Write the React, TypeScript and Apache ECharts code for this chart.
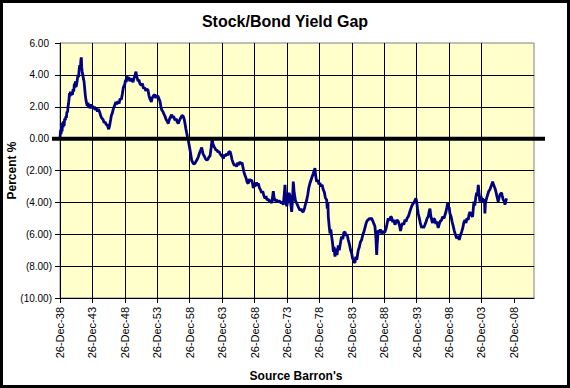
import { useEffect, useRef } from 'react';
import * as echarts from 'echarts';

const TITLE = 'Stock/Bond Yield Gap';
const Y_NAME = 'Percent %';
const X_NAME = "Source Barron's";

// x tick labels, one every 5 years starting 26-Dec-1938
const xTickLabels = [
  '26-Dec-38', '26-Dec-43', '26-Dec-48', '26-Dec-53', '26-Dec-58',
  '26-Dec-63', '26-Dec-68', '26-Dec-73', '26-Dec-78', '26-Dec-83',
  '26-Dec-88', '26-Dec-93', '26-Dec-98', '26-Dec-03', '26-Dec-08',
];
const X_STEP = 5;
const X_SPAN = 73.1; // years shown after 26-Dec-1938
const START_YEAR = 1938 + 359 / 365; // 26-Dec-1938 as decimal year

const Y_MIN = -10;
const Y_MAX = 6;
const Y_STEP = 2;

// dates as decimal years
const dateYears = [
  1939.00, 1939.08, 1939.15, 1939.23, 1939.30, 1939.38, 1939.46, 1939.55, 1939.62, 1939.70,
  1939.80, 1939.90, 1939.97, 1940.05, 1940.15, 1940.22, 1940.30, 1940.38, 1940.45, 1940.52,
  1940.60, 1940.70, 1940.80, 1940.90, 1941.00, 1941.10, 1941.20, 1941.28, 1941.36, 1941.45,
  1941.55, 1941.65, 1941.76, 1941.85, 1941.95, 1942.03, 1942.12, 1942.20, 1942.27, 1942.33,
  1942.40, 1942.50, 1942.60, 1942.69, 1942.80, 1942.89, 1943.00, 1943.10, 1943.20, 1943.30,
  1943.40, 1943.57, 1943.70, 1943.85, 1944.00, 1944.15, 1944.30, 1944.45, 1944.59, 1944.75,
  1944.90, 1945.11, 1945.25, 1945.40, 1945.62, 1945.80, 1945.95, 1946.13, 1946.25, 1946.39,
  1946.50, 1946.65, 1946.80, 1946.90, 1947.05, 1947.20, 1947.42, 1947.60, 1947.75, 1947.93,
  1948.10, 1948.25, 1948.44, 1948.60, 1948.75, 1948.97, 1949.10, 1949.20, 1949.32, 1949.45,
  1949.60, 1949.74, 1949.90, 1950.05, 1950.24, 1950.40, 1950.55, 1950.70, 1950.80, 1950.90,
  1951.02, 1951.15, 1951.30, 1951.52, 1951.70, 1951.85, 1952.05, 1952.20, 1952.35, 1952.56,
  1952.70, 1952.85, 1953.07, 1953.20, 1953.40, 1953.59, 1953.75, 1953.90, 1954.10, 1954.25,
  1954.40, 1954.55, 1954.67, 1954.85, 1955.00, 1955.18, 1955.35, 1955.50, 1955.69, 1955.85,
  1956.00, 1956.21, 1956.35, 1956.50, 1956.72, 1956.90, 1957.05, 1957.23, 1957.40, 1957.60,
  1957.80, 1958.00, 1958.15, 1958.26, 1958.40, 1958.52, 1958.65, 1958.77, 1958.90, 1959.03,
  1959.15, 1959.29, 1959.45, 1959.60, 1959.80, 1960.00, 1960.15, 1960.31, 1960.50, 1960.70,
  1960.84, 1960.95, 1961.08, 1961.25, 1961.40, 1961.61, 1961.80, 1961.95, 1962.12, 1962.30,
  1962.40, 1962.47, 1962.55, 1962.73, 1962.90, 1963.05, 1963.15, 1963.35, 1963.50, 1963.66,
  1963.85, 1964.00, 1964.17, 1964.35, 1964.50, 1964.69, 1964.85, 1965.00, 1965.20, 1965.35,
  1965.50, 1965.71, 1965.90, 1966.05, 1966.23, 1966.40, 1966.55, 1966.74, 1966.90, 1967.05,
  1967.20, 1967.35, 1967.51, 1967.70, 1967.85, 1968.02, 1968.20, 1968.35, 1968.55, 1968.70,
  1968.79, 1968.95, 1969.10, 1969.30, 1969.45, 1969.56, 1969.75, 1969.90, 1970.08, 1970.25,
  1970.40, 1970.60, 1970.75, 1970.90, 1971.10, 1971.30, 1971.45, 1971.63, 1971.75, 1971.88,
  1972.00, 1972.15, 1972.40, 1972.60, 1972.75, 1972.91, 1973.10, 1973.25, 1973.42, 1973.55,
  1973.68, 1973.80, 1973.94, 1974.10, 1974.30, 1974.45, 1974.60, 1974.71, 1974.85, 1974.96,
  1975.10, 1975.30, 1975.48, 1975.65, 1975.80, 1975.99, 1976.15, 1976.30, 1976.50, 1976.70,
  1976.85, 1977.03, 1977.20, 1977.35, 1977.53, 1977.70, 1977.85, 1978.04, 1978.15, 1978.30,
  1978.40, 1978.57, 1978.75, 1978.90, 1979.08, 1979.25, 1979.40, 1979.58, 1979.75, 1979.90,
  1980.11, 1980.20, 1980.30, 1980.36, 1980.50, 1980.62, 1980.75, 1980.88, 1981.00, 1981.15,
  1981.25, 1981.39, 1981.55, 1981.70, 1981.90, 1982.05, 1982.25, 1982.42, 1982.60, 1982.75,
  1982.93, 1983.10, 1983.25, 1983.44, 1983.60, 1983.80, 1983.96, 1984.10, 1984.30, 1984.47,
  1984.60, 1984.75, 1984.98, 1985.15, 1985.30, 1985.50, 1985.70, 1985.85, 1986.01, 1986.20,
  1986.35, 1986.52, 1986.70, 1986.85, 1987.05, 1987.25, 1987.40, 1987.55, 1987.70, 1987.82,
  1987.90, 1988.06, 1988.25, 1988.40, 1988.58, 1988.75, 1988.90, 1989.10, 1989.30, 1989.45,
  1989.60, 1989.80, 1989.95, 1990.13, 1990.30, 1990.45, 1990.64, 1990.80, 1990.95, 1991.15,
  1991.35, 1991.50, 1991.67, 1991.85, 1992.00, 1992.18, 1992.35, 1992.50, 1992.69, 1992.85,
  1993.00, 1993.21, 1993.40, 1993.60, 1993.75, 1993.88, 1994.00, 1994.12, 1994.23, 1994.40,
  1994.55, 1994.76, 1994.90, 1995.05, 1995.26, 1995.45, 1995.60, 1995.77, 1995.90, 1996.04,
  1996.15, 1996.30, 1996.45, 1996.60, 1996.80, 1996.95, 1997.10, 1997.31, 1997.45, 1997.60,
  1997.84, 1998.00, 1998.20, 1998.35, 1998.50, 1998.65, 1998.76, 1998.90, 1999.00, 1999.12,
  1999.30, 1999.45, 1999.63, 1999.80, 1999.95, 2000.15, 2000.35, 2000.55, 2000.75, 2000.92,
  2001.10, 2001.25, 2001.43, 2001.60, 2001.75, 2001.94, 2002.05, 2002.20, 2002.40, 2002.62,
  2002.72, 2002.82, 2002.95, 2003.10, 2003.24, 2003.35, 2003.49, 2003.60, 2003.74, 2003.90,
  2004.05, 2004.16, 2004.30, 2004.45, 2004.51, 2004.60, 2004.77, 2004.95, 2005.10, 2005.28,
  2005.45, 2005.60, 2005.70, 2005.85, 2006.05, 2006.20, 2006.35, 2006.56, 2006.70, 2006.85,
  2007.09, 2007.20, 2007.34, 2007.50, 2007.60, 2007.75, 2007.86,
];

// stock/bond yield gap, percent
const yieldGap = [
  0.10, 0.55, 0.30, 0.85, 0.45, 1.00, 0.70, 1.10, 0.80, 1.25,
  1.15, 1.40, 1.30, 1.70, 1.65, 2.00, 2.20, 2.50, 2.85, 2.65,
  2.95, 2.70, 2.90, 2.75, 3.10, 2.95, 3.45, 3.20, 3.60, 3.25,
  3.40, 3.70, 4.00, 3.85, 4.40, 4.60, 4.35, 4.90, 5.10, 4.50,
  4.20, 4.00, 3.75, 3.60, 3.10, 2.70, 2.40, 2.20, 2.05, 2.25,
  1.95, 2.00, 2.15, 1.90, 2.05, 1.85, 2.00, 1.80, 1.90, 1.70,
  1.85, 1.65, 1.45, 1.30, 1.20, 1.00, 1.05, 0.85, 0.90, 0.70,
  0.60, 0.85, 1.20, 1.45, 1.60, 1.85, 2.10, 2.30, 2.15, 2.35,
  2.20, 2.50, 2.45, 2.80, 3.20, 3.40, 3.70, 3.55, 3.90, 3.75,
  3.85, 3.60, 3.75, 3.70, 3.55, 3.80, 3.95, 4.20, 3.90, 3.80,
  3.60, 3.70, 3.45, 3.35, 3.45, 3.15, 3.20, 3.00, 3.10, 3.05,
  2.70, 2.50, 2.30, 2.55, 2.70, 2.75, 2.55, 2.70, 2.65, 2.50,
  2.35, 2.00, 1.80, 1.70, 1.55, 1.40, 1.20, 1.10, 0.95, 1.20,
  1.35, 1.50, 1.30, 1.40, 1.15, 1.25, 1.05, 0.95, 1.15, 1.30,
  1.45, 1.40, 1.20, 0.95, 0.60, 0.35, 0.10, -0.10, -0.40, -0.70,
  -1.00, -1.35, -1.50, -1.60, -1.55, -1.40, -1.30, -1.15, -0.90, -0.70,
  -0.55, -0.80, -1.00, -1.10, -1.25, -1.35, -1.30, -1.15, -1.10, -0.55,
  -0.20, 0.00, -0.30, -0.50, -0.60, -0.75, -0.70, -0.85, -0.80, -0.95,
  -1.05, -1.10, -1.25, -1.00, -1.10, -0.95, -1.05, -0.85, -0.80, -1.00,
  -1.30, -1.55, -1.70, -1.60, -1.75, -1.50, -1.65, -1.45, -1.60, -1.50,
  -1.80, -2.10, -2.30, -2.50, -2.75, -2.80, -2.55, -2.65, -2.60, -2.85,
  -3.10, -2.90, -3.00, -2.75, -2.95, -2.80, -3.10, -3.20, -3.40, -3.30,
  -3.55, -3.75, -3.60, -3.85, -3.80, -3.95, -3.85, -4.05, -3.70, -3.30,
  -3.70, -3.90, -3.85, -4.00, -3.90, -3.95, -4.05, -3.95, -4.15, -3.60,
  -2.90, -3.70, -4.25, -3.95, -3.40, -3.60, -4.20, -4.60, -3.80, -2.70,
  -3.40, -3.90, -4.05, -4.20, -4.35, -4.50, -4.40, -4.55, -4.60, -4.35,
  -4.10, -3.85, -3.50, -3.10, -2.80, -2.60, -2.40, -2.20, -2.05, -1.85,
  -2.30, -2.70, -2.60, -2.85, -2.80, -3.00, -2.90, -3.20, -3.35, -3.70,
  -3.85, -4.40, -4.00, -4.90, -5.50, -5.95, -5.70, -6.15, -6.50, -7.10,
  -6.80, -7.40, -6.90, -7.30, -6.70, -7.00, -6.50, -6.15, -6.30, -5.90,
  -5.85, -6.10, -6.00, -6.35, -6.60, -7.00, -7.20, -7.50, -7.70, -7.80,
  -7.40, -7.60, -7.00, -6.80, -6.50, -6.35, -6.00, -5.85, -5.60, -5.30,
  -5.15, -5.10, -5.00, -5.05, -5.00, -5.20, -5.35, -5.50, -6.20, -7.30,
  -6.60, -5.75, -5.90, -5.70, -5.95, -5.80, -5.90, -5.85, -5.60, -5.30,
  -5.00, -5.15, -4.90, -4.95, -5.25, -5.10, -5.40, -5.25, -5.10, -5.20,
  -5.45, -5.80, -5.45, -5.30, -5.40, -5.10, -5.20, -5.00, -4.90, -4.70,
  -4.50, -4.25, -4.10, -4.00, -3.85, -3.75, -4.00, -4.40, -4.70, -5.00,
  -5.30, -5.60, -5.50, -5.60, -5.40, -5.20, -5.00, -4.90, -4.60, -4.40,
  -4.80, -5.10, -5.30, -5.00, -5.10, -5.35, -5.20, -5.60, -5.40, -5.20,
  -5.10, -4.90, -5.00, -4.80, -4.60, -4.30, -4.05, -4.40, -4.30, -4.70,
  -4.90, -5.20, -5.50, -5.80, -6.00, -6.25, -6.10, -6.35, -6.05, -5.85,
  -5.60, -5.30, -5.10, -5.30, -5.00, -5.10, -4.80, -4.60, -4.80, -4.90,
  -4.40, -3.95, -4.20, -3.70, -3.40, -3.60, -2.90, -3.40, -3.95, -3.60,
  -3.85, -3.75, -4.00, -3.80, -4.70, -4.00, -3.75, -3.50, -3.30, -3.20,
  -3.00, -2.85, -2.70, -2.90, -3.10, -3.30, -3.60, -3.95, -3.70, -3.50,
  -3.40, -3.60, -3.85, -3.90, -4.15, -3.90, -3.75,
];

const FONT = '"Liberation Sans", Arial, Helvetica, sans-serif';

export default function App() {
  const ref = useRef<HTMLDivElement>(null);

  useEffect(() => {
    if (!ref.current) return;
    const chart = echarts.init(ref.current, null, { renderer: 'svg' });

    const seriesData = dateYears.map((yr, i) => [yr - START_YEAR, yieldGap[i]]);
    const xTickValues = xTickLabels.map((_, i) => i * X_STEP);

    const option: any = {
      animation: false,
      backgroundColor: '#ffffff',
      title: {
        text: TITLE,
        left: 'center',
        top: 13,
        padding: 0,
        textStyle: { fontFamily: FONT, fontSize: 16, fontWeight: 'bold', color: '#000000' },
      },
      grid: {
        left: 60,
        top: 43,
        width: 474,
        height: 255,
        show: true,
        backgroundColor: '#FFFFCC',
        borderColor: '#808080',
        borderWidth: 1,
      },
      xAxis: {
        type: 'value',
        min: 0,
        max: X_SPAN,
        interval: X_STEP,
        axisLine: { show: true, onZero: false, lineStyle: { color: '#000000', width: 1 } },
        axisTick: {
          show: true,
          length: 5,
          customValues: xTickValues,
          lineStyle: { color: '#000000', width: 1 },
        },
        axisLabel: {
          rotate: 90,
          margin: 9,
          fontSize: 11,
          fontFamily: FONT,
          color: '#000000',
          showMaxLabel: false,
          formatter: (v: number) => {
            const i = Math.round(v / X_STEP);
            return Math.abs(v - i * X_STEP) < 1e-6 && i < xTickLabels.length ? xTickLabels[i] : '';
          },
        },
        splitLine: { show: true, showMaxLine: false, lineStyle: { color: '#000000', width: 1 } },
      },
      yAxis: {
        type: 'value',
        min: Y_MIN,
        max: Y_MAX,
        interval: Y_STEP,
        axisLine: { show: true, onZero: false, lineStyle: { color: '#000000', width: 1 } },
        axisTick: { show: true, length: 5, lineStyle: { color: '#000000', width: 1 } },
        axisLabel: {
          margin: 8,
          fontSize: 10,
          fontFamily: FONT,
          color: '#000000',
          formatter: (v: number) =>
            v < 0 ? `(${(-v).toFixed(2)})` : `{pos|${v.toFixed(2)}}`,
          rich: {
            pos: { padding: [0, 3, 0, 0], fontSize: 10, fontFamily: FONT, color: '#000000' },
          },
        },
        splitLine: { show: true, showMaxLine: false, lineStyle: { color: '#000000', width: 1 } },
      },
      series: [
        {
          type: 'line',
          data: seriesData,
          showSymbol: false,
          symbol: 'none',
          clip: true,
          lineStyle: { color: '#000080', width: 2.8 },
          itemStyle: { color: '#000080' },
          z: 2,
        },
      ],
    };

    chart.setOption(option);

    const y0 = chart.convertToPixel({ yAxisIndex: 0 }, 0) as number;
    const xL = chart.convertToPixel({ xAxisIndex: 0 }, 0) as number;
    const xR = chart.convertToPixel({ xAxisIndex: 0 }, X_SPAN) as number;
    const yTop = chart.convertToPixel({ yAxisIndex: 0 }, Y_MAX) as number;
    const yBot = chart.convertToPixel({ yAxisIndex: 0 }, Y_MIN) as number;

    chart.setOption({
      graphic: [
        {
          type: 'line',
          z: 5,
          shape: { x1: xL - 8, y1: y0, x2: xR + 11, y2: y0 },
          style: { stroke: '#000000', lineWidth: 4 },
        },
        {
          type: 'text',
          z: 5,
          x: 12,
          y: (yTop + yBot) / 2,
          rotation: Math.PI / 2,
          style: {
            text: Y_NAME,
            font: `bold 12px ${FONT}`,
            fill: '#000000',
            align: 'center',
            verticalAlign: 'middle',
          },
        },
        {
          type: 'text',
          z: 5,
          x: (xL + xR) / 2 - 1,
          y: 376,
          style: {
            text: X_NAME,
            font: `bold 12px ${FONT}`,
            fill: '#000000',
            align: 'center',
            verticalAlign: 'middle',
          },
        },
        {
          type: 'rect',
          z: 10,
          shape: { x: 1.5, y: 1.5, width: 567, height: 385 },
          style: { fill: 'none', stroke: '#000000', lineWidth: 3 },
        },
      ],
    });

    return () => chart.dispose();
  }, []);

  return (
    <div
      ref={ref}
      style={{ position: 'absolute', left: 0, top: 0, width: 570, height: 388, background: '#ffffff' }}
    />
  );
}
